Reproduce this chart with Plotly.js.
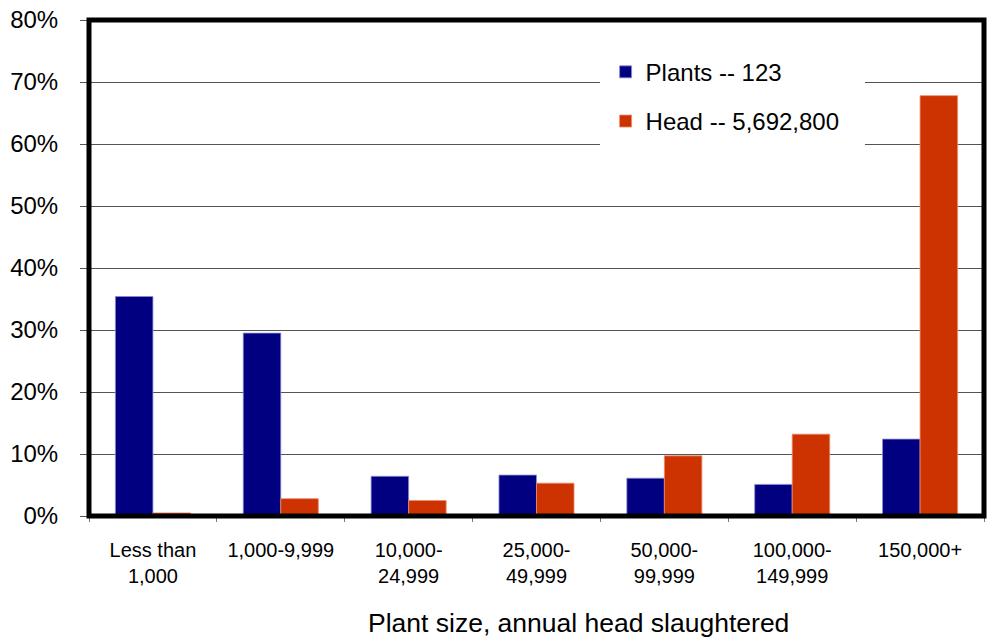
<!DOCTYPE html>
<html>
<head>
<meta charset="utf-8">
<script src="https://cdn.plot.ly/plotly-3.0.1.min.js"></script>
<style>html,body{margin:0;padding:0;background:#fff;}#chart{width:996px;height:639px;}</style>
</head>
<body>
<div id="chart"></div>
<script>
var categories = ["Less than<br>1,000", "1,000-9,999", "10,000-<br>24,999", "25,000-<br>49,999", "50,000-<br>99,999", "100,000-<br>149,999", "150,000+"];
var plantsValues = [35.4, 29.5, 6.4, 6.6, 6.1, 5.1, 12.4];
var headValues = [0.5, 2.8, 2.5, 5.3, 9.7, 13.2, 67.8];
var seriesNames = ["Plants -- 123", "Head -- 5,692,800"];
var yTickVals = [0, 10, 20, 30, 40, 50, 60, 70, 80];
var yTickText = ["0%", "10%", "20%", "30%", "40%", "50%", "60%", "70%", "80%"];
var xAxisTitle = "Plant size, annual head slaughtered";

var FONT = "Liberation Sans, Arial, Helvetica, sans-serif";
var Y_MAX = 80;

// legend backdrop box, given as fractions of the plot area
var boxFrac = {x0: 0.571, x1: 0.867, y0: 0.74, y1: 0.94};
var nCat = categories.length;
function fx(f) { return -0.5 + nCat * f; }
function fy(f) { return Y_MAX * f; }

var traces = [
  {type: "bar", x: categories, y: plantsValues, name: seriesNames[0], legendgroup: "a",
   marker: {color: "#000080", line: {color: "rgba(140,140,210,0.8)", width: 1}}, hoverinfo: "skip"},
  {type: "bar", x: categories, y: headValues, name: seriesNames[1], legendgroup: "b",
   marker: {color: "#CC3300", line: {color: "rgba(235,140,110,0.8)", width: 1}}, hoverinfo: "skip"}
];

var layout = {
  width: 996, height: 639,
  margin: {l: 89, r: 12, t: 20, b: 123, pad: 0},
  paper_bgcolor: "#ffffff", plot_bgcolor: "#ffffff",
  font: {family: FONT, color: "#000000"},
  barmode: "group", bargap: 0.413, bargroupgap: 0,
  showlegend: true,
  legend: {x: 0.5772, xanchor: "left", y: 0.94, yanchor: "top",
           bgcolor: "#ffffff", borderwidth: 0, font: {family: FONT, size: 24, color: "#000"},
           traceorder: "grouped", tracegroupgap: 15},
  xaxis: {type: "category", range: [-0.5, nCat - 0.5], showgrid: false, zeroline: false, showline: false,
          ticks: "outside", tickson: "boundaries", ticklen: 5, tickcolor: "#777", tickwidth: 1,
          tickfont: {family: FONT, size: 20, color: "#000"}, ticklabelstandoff: 20, fixedrange: true},
  yaxis: {range: [0, Y_MAX], tickvals: yTickVals, ticktext: yTickText, showgrid: true,
          gridcolor: "#555555", gridwidth: 1, zeroline: false, showline: false,
          ticks: "outside", ticklen: 8, tickcolor: "#555", tickwidth: 1,
          tickfont: {family: FONT, size: 24, color: "#000"}, ticklabelstandoff: 17, fixedrange: true},
  shapes: [
    {type: "rect", xref: "x", yref: "y", x0: fx(boxFrac.x0), x1: fx(boxFrac.x1),
     y0: fy(boxFrac.y0), y1: fy(boxFrac.y1),
     line: {width: 0}, fillcolor: "#ffffff", layer: "between"},
    {type: "rect", xref: "paper", yref: "paper", x0: 0, x1: 1, y0: 0, y1: 1,
     line: {color: "#000000", width: 5}, fillcolor: "rgba(0,0,0,0)", layer: "above"}
  ],
  annotations: [
    {text: xAxisTitle, xref: "paper", yref: "paper", x: 0.547, y: -0.2157,
     xanchor: "center", yanchor: "middle", showarrow: false,
     font: {family: FONT, size: 26.5, color: "#000"}}
  ]
};

Plotly.newPlot("chart", traces, layout, {displayModeBar: false, staticPlot: true});
</script>
</body>
</html>
